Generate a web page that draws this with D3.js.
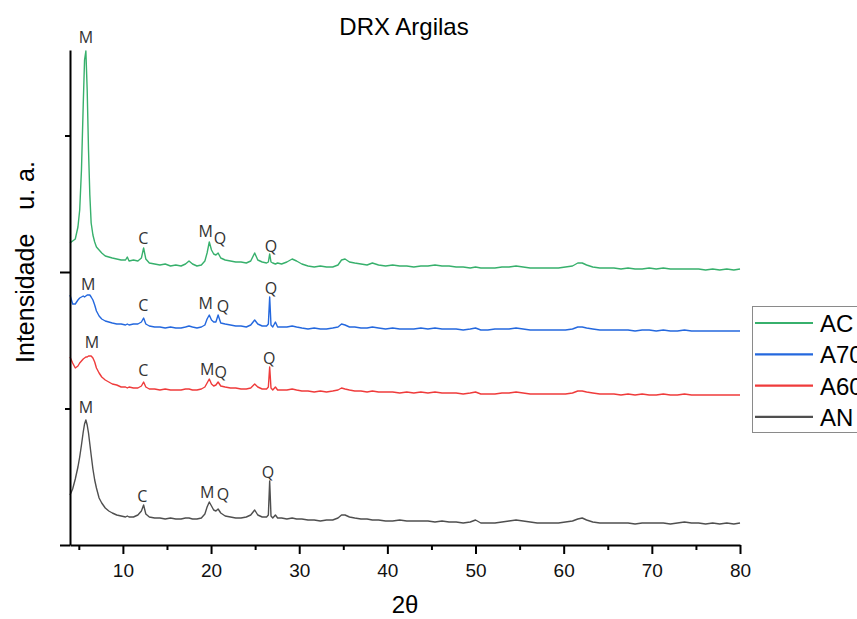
<!DOCTYPE html>
<html>
<head>
<meta charset="utf-8">
<script src="https://cdn.jsdelivr.net/npm/d3@7.9.0/dist/d3.min.js"></script>
<style>
  html, body { margin: 0; padding: 0; background: #fff; }
  svg { display: block; font-family: "Liberation Sans", Arial, sans-serif; }
</style>
</head>
<body>
<svg id="chart" width="857" height="619"></svg>
<script>
// 2θ grid shared by the four patterns (denser around the peaks)
const twoTheta = [
  4.0, 4.3, 4.6, 4.9, 5.1, 5.3, 5.5, 5.65, 5.8, 5.95,
  6.1, 6.25, 6.4, 6.6, 6.8, 7.0, 7.3, 7.6, 8.0, 8.4,
  8.8, 9.3, 9.8, 10.3, 10.5, 10.7, 11.2, 11.7, 12.1, 12.35,
  12.6, 13.0, 13.6, 14.2, 14.8, 15.4, 16.0, 16.6, 17.1, 17.5,
  17.9, 18.4, 18.9, 19.3, 19.55, 19.8, 20.05, 20.3, 20.55, 20.8,
  21.1, 21.6, 22.2, 22.8, 23.4, 24.0, 24.5, 24.95, 25.3, 25.8,
  26.3, 26.5, 26.65, 26.8, 27.0, 27.3, 27.55, 28.0, 28.6, 29.2,
  29.7, 30.3, 31.0, 31.7, 32.4, 33.1, 33.8, 34.4, 34.8, 35.2,
  35.7, 36.3, 37.0, 37.7, 38.3, 39.0, 39.8, 40.6, 41.4, 42.2,
  43.0, 43.8, 44.6, 45.4, 46.2, 47.0, 47.8, 48.6, 49.4, 50.0,
  50.6, 51.4, 52.2, 53.0, 53.8, 54.6, 55.4, 56.2, 57.0, 57.8,
  58.6, 59.4, 60.2, 61.0, 61.6, 62.1, 62.6, 63.3, 64.1, 64.9,
  65.7, 66.5, 67.3, 68.1, 68.9, 69.7, 70.5, 71.3, 72.1, 72.9,
  73.7, 74.5, 75.3, 76.1, 76.9, 77.7, 78.5, 79.3, 80.0
];

// intensities (u. a., patterns already stacked as in the figure)
const intAC = [
  302, 304, 306, 318, 335, 375, 440, 485, 494, 455,
  395, 350, 322, 310, 303, 298, 295, 292, 289, 288,
  287, 286, 285, 285, 288, 284, 285, 284, 287, 297,
  286, 282, 281, 280, 281, 279, 280, 279, 281, 284,
  281, 279, 280, 284, 292, 303, 295, 291, 290, 292,
  287, 285, 284, 283, 283, 282, 284, 292, 285, 283,
  282, 283, 291, 283, 282, 281, 282, 281, 283, 286,
  284, 281, 279, 278, 279, 278, 278, 280, 285, 286,
  283, 282, 281, 280, 282, 280, 279, 280, 279, 279,
  278, 279, 279, 280, 279, 279, 278, 278, 277, 278,
  277, 277, 277, 278, 278, 279, 278, 277, 277, 277,
  277, 277, 278, 279, 282, 282, 280, 278, 277, 277,
  277, 276, 277, 276, 276, 277, 276, 277, 276, 276,
  276, 276, 276, 275, 276, 275, 276, 275, 276
];
const intA70 = [
  250, 241, 241, 245, 247, 248, 249, 248, 249, 250,
  250, 250, 248, 245, 240, 234, 229, 226, 224, 223,
  222, 221, 221, 220, 221, 220, 221, 221, 223, 227,
  221, 219, 218, 218, 217, 218, 217, 217, 218, 219,
  218, 217, 218, 220, 226, 230, 225, 223, 223, 230,
  222, 221, 220, 219, 219, 218, 220, 225, 221, 219,
  219, 221, 248, 220, 218, 223, 218, 218, 218, 219,
  218, 217, 216, 217, 216, 216, 217, 218, 221, 220,
  218, 218, 217, 217, 218, 217, 216, 217, 216, 216,
  216, 217, 216, 217, 216, 216, 216, 215, 216, 217,
  215, 215, 216, 216, 216, 217, 216, 215, 215, 215,
  215, 215, 215, 216, 218, 218, 217, 216, 215, 215,
  215, 215, 215, 214, 215, 215, 214, 215, 214, 214,
  215, 214, 214, 214, 214, 214, 214, 214, 214
];
const intA60 = [
  188, 182, 177, 179, 182, 184, 186, 187, 188, 188,
  189, 189, 189, 187, 183, 177, 172, 168, 165, 163,
  161, 160, 158, 158, 157, 158, 157, 157, 159, 163,
  158, 156, 156, 155, 156, 155, 155, 155, 156, 156,
  155, 155, 156, 158, 162, 166, 161, 159, 160, 163,
  159, 158, 157, 157, 156, 156, 157, 161, 158, 156,
  156, 158, 178, 157, 155, 158, 155, 155, 155, 156,
  155, 154, 154, 153, 154, 153, 154, 155, 157, 156,
  155, 154, 154, 153, 154, 153, 153, 153, 152, 153,
  152, 153, 152, 153, 152, 152, 152, 151, 152, 153,
  151, 151, 151, 152, 152, 153, 152, 151, 151, 151,
  151, 151, 151, 152, 154, 154, 153, 152, 151, 151,
  151, 150, 151, 150, 151, 150, 150, 151, 150, 150,
  151, 150, 150, 150, 150, 150, 150, 150, 150
];
const intAN = [
  50, 56, 66, 78, 88, 100, 113, 121, 125, 120,
  112, 101, 90, 76, 65, 57, 47, 42, 37, 34,
  32, 30, 29, 28, 29, 28, 28, 30, 34, 40,
  31, 28, 27, 27, 26, 27, 26, 26, 27, 27,
  26, 26, 27, 31, 38, 43, 39, 35, 34, 36,
  32, 29, 28, 27, 27, 28, 30, 35, 30, 28,
  28, 30, 64, 29, 27, 30, 27, 27, 26, 27,
  26, 26, 25, 25, 24, 25, 25, 27, 30, 30,
  28, 27, 26, 26, 25, 25, 24, 24, 25, 24,
  24, 24, 24, 23, 24, 23, 23, 22, 23, 25,
  22, 22, 22, 23, 24, 25, 24, 23, 22, 22,
  22, 22, 23, 24, 26, 27, 25, 23, 22, 22,
  22, 22, 22, 21, 22, 22, 22, 22, 21, 22,
  23, 22, 22, 21, 22, 21, 22, 21, 22
];

const seriesNames = ['AC', 'A70', 'A60', 'AN'];
const seriesColors = ['#37b06c', '#2468de', '#ef3b3b', '#4f4f4f'];
const seriesValues = [intAC, intA70, intA60, intAN];

// phase labels: [text, 2θ, intensity]
const labelsAC  = [['M', 5.8, 502], ['C', 12.3, 301], ['M', 19.4, 308], ['Q', 21.0, 301], ['Q', 26.8, 293]];
const labelsA70 = [['M', 6.05, 255], ['C', 12.3, 234], ['M', 19.4, 236], ['Q', 21.35, 233], ['Q', 26.8, 251]];
const labelsA60 = [['M', 6.5, 197], ['C', 12.3, 169], ['M', 19.55, 170], ['Q', 21.1, 167], ['Q', 26.6, 181]];
const labelsAN  = [['M', 5.8, 132], ['C', 12.2, 43], ['M', 19.55, 47], ['Q', 21.35, 45], ['Q', 26.45, 67]];

const xMajor = [10, 20, 30, 40, 50, 60, 70, 80];
const xMinor = [5, 15, 25, 35, 45, 55, 65, 75];
const yMajor = [0, 273];
const yMinor = [136.5, 409.5];

const width = 857, height = 619;
const margin = { top: 50, right: 117, bottom: 74, left: 70 };

const svg = d3.select('#chart');

let x = d3.scaleLinear().domain([4, 80]).range([margin.left, width - margin.right]);
let y = d3.scaleLinear().domain([0, 495]).range([height - margin.bottom, margin.top]);

// title
svg.append('text')
  .attr('x', 404).attr('y', 35)
  .attr('text-anchor', 'middle')
  .attr('font-size', 24)
  .text('DRX Argilas');

// lines
let line = d3.line().x((d) => x(d[0])).y((d) => y(d[1]));
seriesValues.forEach((vals, i) => {
  if (vals.length !== twoTheta.length) console.warn('length mismatch', seriesNames[i]);
  let pts = twoTheta.map((t, j) => [t, vals[j]]);
  svg.append('path')
    .datum(pts)
    .attr('d', line)
    .attr('fill', 'none')
    .attr('stroke', seriesColors[i])
    .attr('stroke-width', 1.4)
    .attr('stroke-linejoin', 'round');
});

// peak labels
[labelsAC, labelsA70, labelsA60, labelsAN].forEach((labs) => {
  svg.append('g').selectAll('text')
    .data(labs)
    .join('text')
    .attr('x', (d) => x(d[1]))
    .attr('y', (d) => y(d[2]))
    .attr('text-anchor', 'middle')
    .attr('font-family', '"Open Sans", "Noto Sans", sans-serif')
    .attr('font-size', 16)
    .attr('fill', '#333')
    .text((d) => d[0]);
});

// x axis
let xAxis = svg.append('g').attr('transform', `translate(0,${height - margin.bottom})`);
xAxis.call(d3.axisBottom(x).tickValues(xMajor).tickSize(9).tickSizeOuter(0).tickPadding(10).tickFormat(d3.format('d')));
xAxis.append('g').call(d3.axisBottom(x).tickValues(xMinor).tickSize(5).tickSizeOuter(0).tickFormat(''))
  .select('.domain').remove();
xAxis.selectAll('text').attr('font-size', 19).attr('fill', '#111').attr('font-family', '"Liberation Sans", Arial, sans-serif');

// y axis (no labels)
let yAxis = svg.append('g').attr('transform', `translate(${margin.left},0)`);
yAxis.call(d3.axisLeft(y).tickValues(yMajor).tickSize(10).tickSizeOuter(0).tickFormat(''));
yAxis.append('g').call(d3.axisLeft(y).tickValues(yMinor).tickSize(5).tickSizeOuter(0).tickFormat(''))
  .select('.domain').remove();

svg.selectAll('.domain, .tick line').attr('stroke', '#000').attr('stroke-width', 2);

// axis titles
svg.append('text')
  .attr('x', 405).attr('y', 613)
  .attr('text-anchor', 'middle')
  .attr('font-size', 24)
  .text('2θ');

let yTitle = svg.append('text')
  .attr('transform', 'translate(34,262) rotate(-90)')
  .attr('text-anchor', 'middle')
  .attr('font-size', 25);
yTitle.append('tspan').text('Intensidade');
yTitle.append('tspan').attr('dx', 24).text('u. a.');

// legend (cut by the right edge, as in the original figure)
let legend = svg.append('g');
legend.append('rect')
  .attr('x', 752.5).attr('y', 306.5)
  .attr('width', 130).attr('height', 126)
  .attr('fill', '#fff')
  .attr('stroke', '#8a8a8a');
seriesNames.forEach((name, i) => {
  let ly = 323 + i * 31.3;
  legend.append('line')
    .attr('x1', 755).attr('x2', 813)
    .attr('y1', ly).attr('y2', ly)
    .attr('stroke', seriesColors[i])
    .attr('stroke-width', 2.2);
  legend.append('text')
    .attr('x', 820).attr('y', ly + 9)
    .attr('font-size', 24)
    .text(name);
});
</script>
</body>
</html>
